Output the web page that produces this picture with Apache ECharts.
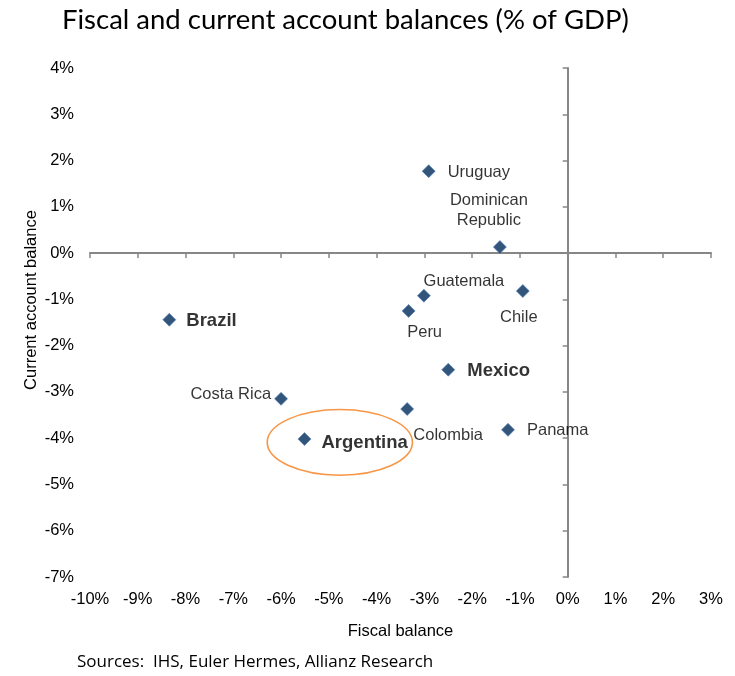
<!DOCTYPE html>
<html>
<head>
<meta charset="utf-8">
<script src="https://cdn.jsdelivr.net/npm/echarts@6/dist/echarts.min.js"></script>
<style>
  html, body { margin: 0; padding: 0; background: #fff; }
  #chart { width: 735px; height: 676px; }
</style>
</head>
<body>
<div id="chart"></div>
<script>
// Country names and their balances (% of GDP)
const countries = ['Uruguay', 'Dominican\nRepublic', 'Chile', 'Guatemala', 'Peru', 'Brazil',
                   'Mexico', 'Costa Rica', 'Colombia', 'Argentina', 'Panama'];
const fiscalBalance = [-2.91, -1.42, -0.94, -3.01, -3.33, -8.34, -2.50, -6.00, -3.36, -5.51, -1.25];
const currentAccount = [1.77, 0.13, -0.82, -0.92, -1.25, -1.44, -2.52, -3.15, -3.37, -4.02, -3.82];
const boldCountries = ['Brazil', 'Mexico', 'Argentina'];

// Axis ranges and tick labels
const xTicks = [-10, -9, -8, -7, -6, -5, -4, -3, -2, -1, 0, 1, 2, 3];
const yTicks = [-7, -6, -5, -4, -3, -2, -1, 0, 1, 2, 3, 4];

// Label placement for each country: [dx, dy, align]
const labelPlacement = {
  'Uruguay': [19, 1, 'left'],
  'Dominican\nRepublic': [-11, -37, 'center'],
  'Chile': [-4, 26, 'center'],
  'Guatemala': [40, -14, 'center'],
  'Peru': [16, 22, 'center'],
  'Brazil': [17, 1, 'left'],
  'Mexico': [19, 1, 'left'],
  'Costa Rica': [-10, -4, 'right'],
  'Colombia': [41, 26, 'center'],
  'Argentina': [17, 4, 'left'],
  'Panama': [19, 1, 'left']
};

const TXT = 'Liberation Sans, Arial, sans-serif';
const AXIS_GREY = '#868686';

const points = countries.map((name, i) => {
  const p = labelPlacement[name];
  const bold = boldCountries.indexOf(name) >= 0;
  return {
    name: name,
    value: [fiscalBalance[i], currentAccount[i]],
    label: {
      show: true,
      position: 'inside',
      offset: [p[0], p[1]],
      align: p[2],
      verticalAlign: 'middle',
      formatter: '{b}',
      color: '#000',
      textBorderWidth: 0,
      fontFamily: TXT,
      fontSize: bold ? 18.5 : 16.5,
      fontWeight: bold ? 'bold' : 'normal',
      lineHeight: 20
    }
  };
});

const chart = echarts.init(document.getElementById('chart'));

const valueAxisBase = (min, max) => ({
  type: 'value', min: min, max: max, interval: 1,
  splitLine: { show: false }
});

chart.setOption({
  animation: false,
  backgroundColor: '#fff',
  grid: { left: 90, right: 24, top: 68, bottom: 99, containLabel: false },
  xAxis: [
    Object.assign(valueAxisBase(xTicks[0], xTicks[xTicks.length - 1]), {
      position: 'bottom',
      axisLine: { show: false, onZero: false },
      axisTick: { show: false },
      axisLabel: { formatter: '{value}%', color: '#000', fontFamily: TXT, fontSize: 16.5, margin: 14 },
      name: 'Fiscal balance',
      nameLocation: 'middle',
      nameGap: 46,
      nameTextStyle: { color: '#000', fontFamily: TXT, fontSize: 16.5 }
    }),
    Object.assign(valueAxisBase(xTicks[0], xTicks[xTicks.length - 1]), {
      position: 'bottom',
      axisLine: { show: true, onZero: true, onZeroAxisIndex: 0, lineStyle: { color: AXIS_GREY, width: 2 } },
      axisTick: { show: true, length: 5, lineStyle: { color: AXIS_GREY, width: 1.5 } },
      axisLabel: { show: false }
    })
  ],
  yAxis: [
    Object.assign(valueAxisBase(yTicks[0], yTicks[yTicks.length - 1]), {
      position: 'left',
      axisLine: { show: false, onZero: false },
      axisTick: { show: false },
      axisLabel: { formatter: '{value}%', color: '#000', fontFamily: TXT, fontSize: 16.5, margin: 16 }
    }),
    Object.assign(valueAxisBase(yTicks[0], yTicks[yTicks.length - 1]), {
      position: 'left',
      axisLine: { show: true, onZero: true, onZeroAxisIndex: 0, lineStyle: { color: AXIS_GREY, width: 2 } },
      axisTick: { show: true, length: 5, lineStyle: { color: AXIS_GREY, width: 1.5 } },
      axisLabel: { show: false }
    })
  ],
  series: [{
    type: 'scatter',
    xAxisIndex: 0,
    yAxisIndex: 0,
    symbol: 'diamond',
    symbolSize: 13,
    itemStyle: { color: '#002A58', borderColor: '#5282C0', borderWidth: 0.8 },
    data: points,
    z: 5
  }],
  graphic: [
    {
      type: 'text', left: 62, top: 6,
      style: { text: 'Fiscal and current account balances (% of GDP)', fill: '#000',
               font: '27.5px Lato, "Open Sans", sans-serif' }
    },
    {
      type: 'text', x: 31, y: 300, rotation: Math.PI / 2,
      style: { text: 'Current account balance', fill: '#000', align: 'center', verticalAlign: 'middle',
               font: '16.5px "Liberation Sans", Arial, sans-serif' }
    },
    {
      type: 'text', left: 77, top: 654,
      style: { text: 'Sources:  IHS, Euler Hermes, Allianz Research', fill: '#000',
               font: '17px "Open Sans", Lato, sans-serif' }
    }
  ]
});

// Orange ring highlighting Argentina, placed in data units around its point
const ring = { cx: -4.77, cy: -4.09, rx: 1.52, ry: 0.71 };
const c = chart.convertToPixel({ xAxisIndex: 0, yAxisIndex: 0 }, [ring.cx, ring.cy]);
const e = chart.convertToPixel({ xAxisIndex: 0, yAxisIndex: 0 }, [ring.cx + ring.rx, ring.cy + ring.ry]);
chart.setOption({
  graphic: [{
    type: 'ellipse', id: 'ring', z: 10,
    shape: { cx: c[0], cy: c[1], rx: Math.abs(e[0] - c[0]), ry: Math.abs(c[1] - e[1]) },
    style: { fill: 'none', stroke: '#F79646', lineWidth: 1.6 }
  }]
});
</script>
</body>
</html>
